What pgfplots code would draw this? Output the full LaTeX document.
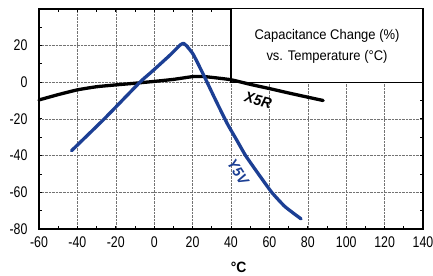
\documentclass[border=0pt]{standalone}
\usepackage{pgfplots}
\pgfplotsset{compat=1.18}
\usepackage{fontspec}
\setmainfont{Liberation Sans}[FakeStretch=0.93]
\newfontfamily\tickfont{Liberation Sans}[FakeStretch=0.8]
\definecolor{yblue}{HTML}{1C3F94}
\begin{document}
\begin{tikzpicture}
\begin{axis}[
  at={(0,0)}, anchor=south west,
  scale only axis, width=384bp, height=220.3bp,
  xmin=-60, xmax=140, ymin=-80, ymax=40,
  xtick={-60,-40,...,140}, ytick={-80,-60,...,20},
  minor xtick={-50,-30,...,130}, minor ytick={-70,-50,...,30},
  grid=major,
  major grid style={densely dotted, black!55, line width=0.6pt},
  tick align=inside, major tick length=3bp, minor tick length=3bp,
  tick style={black, line width=0.8pt},
  every tick/.style={black, line width=0.8pt},
  axis line style={line width=2.3pt},
  ticklabel style={font=\tickfont\fontsize{15.5}{15.5}\selectfont},
  /pgf/number format/assume math mode=true,
  xticklabel style={yshift=-4bp},
  yticklabel style={xshift=-8bp},
  clip=false,
]
\draw[fill=white, line width=1.2pt] (axis cs:40,0) rectangle (axis cs:140,40);
\node[align=center, font=\fontsize{14}{21}\selectfont] at (axis cs:90,19.5) {Capacitance Change (\%)\\vs. Temperature (°C)};

\addplot[black, line width=3.3bp, smooth, tension=0.3, line join=round, line cap=round] coordinates {
(-60,-9.7) (-50,-6.8) (-40,-4.2) (-30,-2.5) (-20,-1.5) (-10,-0.6) (0,0.4) (10,1.5) (20,3.0) (25,3.1) (30,2.6) (40,1.3) (50,-1.2) (60,-3.5) (70,-5.9) (80,-8.2) (88,-10)
};
\addplot[yblue, line width=3.3bp, smooth, tension=0.3, line join=round, line cap=round] coordinates {
(-43,-37.3) (-26,-20) (-7.4,0) (-2,5) (8,14.5) (13.5,20.2) (15.3,21.1) (17,19.6) (20.4,15) (26,3.3) (32,-9.8) (38,-22.5) (43,-31.6) (47.6,-40) (54,-49.6) (61.2,-60) (68.1,-67.8) (76.5,-74.5)
};
\node[rotate=-14, font=\fontsize{15}{15}\selectfont\bfseries\itshape] at (axis cs:54.2,-9.9) {X5R};
\node[rotate=-57, text=yblue, font=\fontsize{15}{15}\selectfont\bfseries\itshape] at (axis cs:43.6,-49) {Y5V};
\node[font=\fontsize{15}{15}\selectfont\bfseries] at (axis cs:44,-80) [yshift=-38bp] {°C};
\end{axis}
\pgfresetboundingbox
\path (-39bp,-47bp) rectangle (394bp,229bp);
\end{tikzpicture}
\end{document}
